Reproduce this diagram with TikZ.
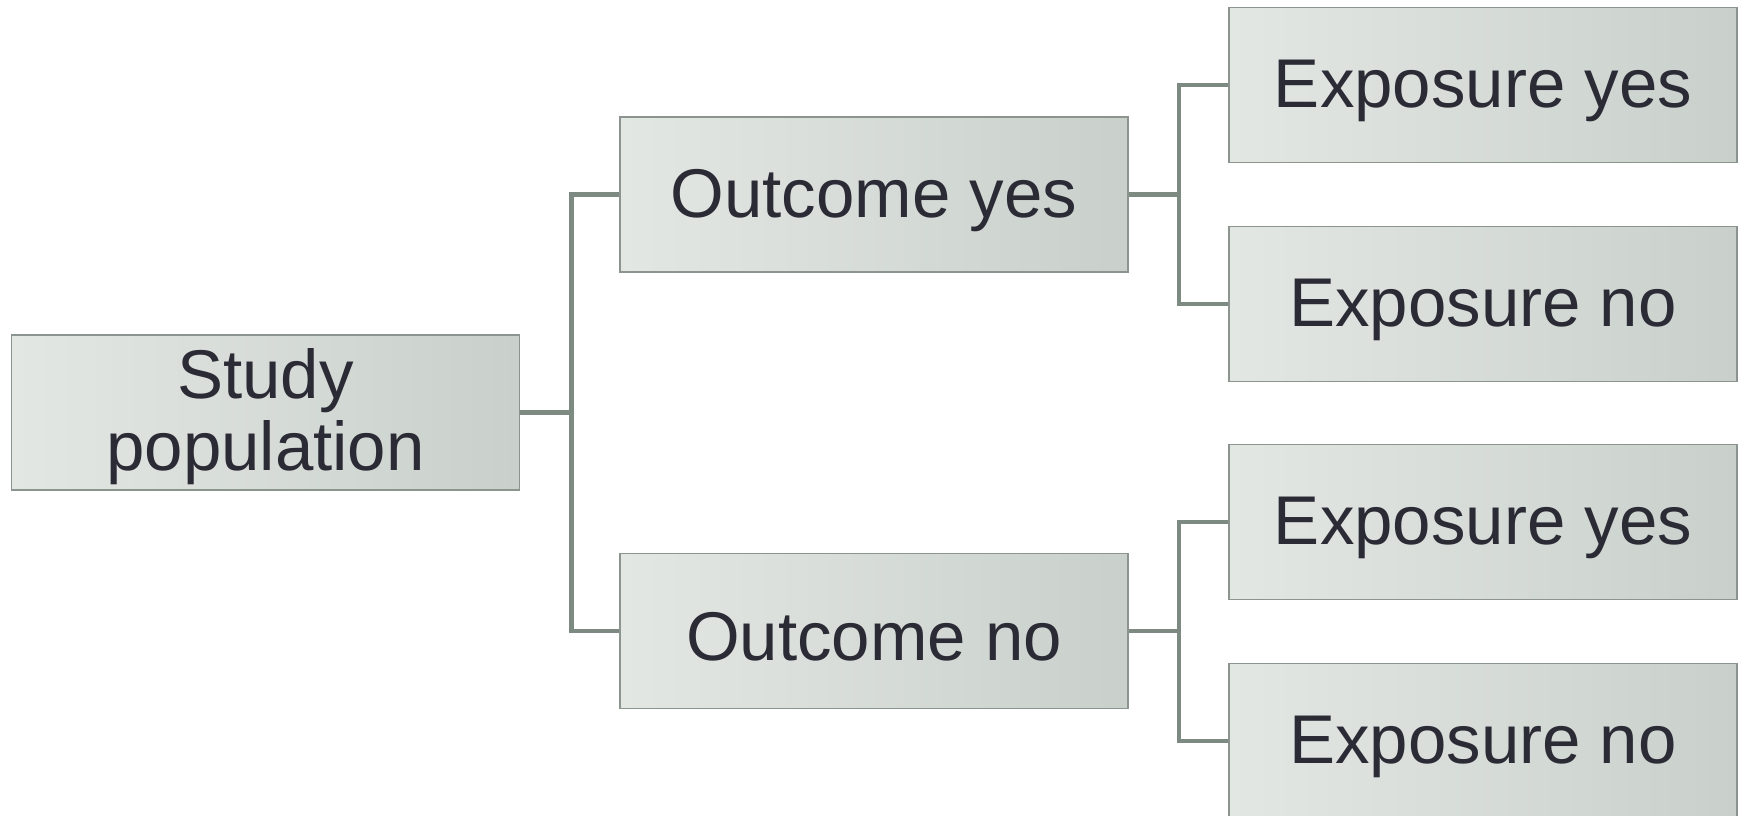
\documentclass[tikz,border=0pt]{standalone}
\usepackage{fontspec}
\setmainfont{Liberation Sans}
\definecolor{boxL}{HTML}{E3E7E4}
\definecolor{boxR}{HTML}{C9D0CB}
\definecolor{boxB}{HTML}{8C948F}
\definecolor{lineC}{HTML}{7D8A82}
\definecolor{txtC}{HTML}{2B2B36}
\newcommand{\lowtxt}[2][6pt]{\raisebox{-#1}[\height][\depth]{#2}}
\begin{document}
\begin{tikzpicture}[x=1pt,y=-1pt,
  box/.style={draw=boxB, line width=1.5pt, left color=boxL, right color=boxR,
    minimum width=508pt, minimum height=155pt, inner sep=0pt, align=center,
    text=txtC, font=\fontsize{69}{72}\selectfont},
  conn/.style={draw=lineC, line width=4.5pt}]
\useasboundingbox (0,0) rectangle (1743,815);
\node[box] (sp) at (265.5,412.5) {\lowtxt[8pt]{\begin{tabular}{@{}c@{}}Study\\population\end{tabular}}};
\node[box] (oy) at (874,194.5) {\lowtxt{Outcome yes}};
\node[box] (on) at (874,631) {\lowtxt{Outcome no}};
\node[box] (ey1) at (1483,85) {\lowtxt{Exposure yes}};
\node[box] (en1) at (1483,304) {\lowtxt{Exposure no}};
\node[box] (ey2) at (1483,522) {\lowtxt{Exposure yes}};
\node[box] (en2) at (1483,741) {\lowtxt{Exposure no}};
\draw[conn] (sp.east) -- ++(51,0) |- (oy.west);
\draw[conn] (sp.east) -- ++(51,0) |- (on.west);
\draw[conn] (oy.east) -- ++(50,0) |- (ey1.west);
\draw[conn] (oy.east) -- ++(50,0) |- (en1.west);
\draw[conn] (on.east) -- ++(50,0) |- (ey2.west);
\draw[conn] (on.east) -- ++(50,0) |- (en2.west);
\end{tikzpicture}
\end{document}
